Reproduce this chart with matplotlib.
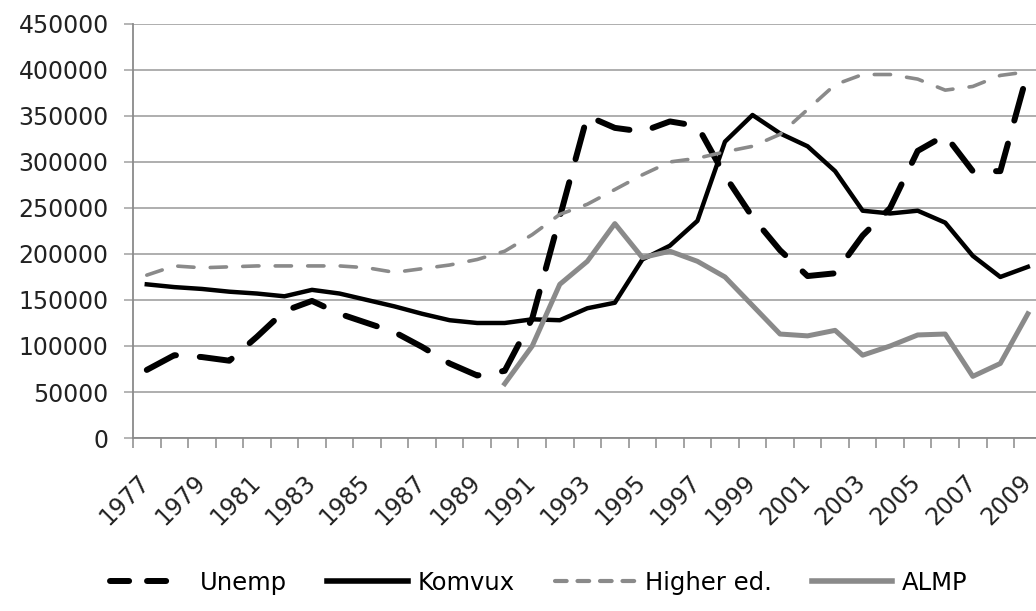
import numpy as np
import matplotlib
matplotlib.use("Agg")
import matplotlib.pyplot as plt
from matplotlib.lines import Line2D
from matplotlib.transforms import ScaledTranslation

years = list(range(1977, 2010))

unemp = [74000, 90000, 88000, 84000, 110000, 138000, 149000, 135000, 125000, 115000,
         99000, 81000, 68000, 73000, 130000, 240000, 350000, 337000, 333000, 344000,
         339000, 285000, 240000, 204000, 176000, 179000, 220000, 250000, 312000, 329000,
         290000, 290000, 398000]

komvux = [167000, 164000, 162000, 159000, 157000, 154000, 161000, 157000, 150000, 143000,
          135000, 128000, 125000, 125000, 129000, 128000, 141000, 147000, 194000, 209000,
          236000, 322000, 351000, 331000, 317000, 290000, 247000, 244000, 247000, 234000,
          198000, 175000, 186000]

higher_ed = [177000, 187000, 185000, 186000, 187000, 187000, 187000, 187000, 185000, 180000,
             184000, 188000, 194000, 203000, 221000, 243000, 254000, 270000, 286000, 300000,
             304000, 311000, 317000, 330000, 357000, 384000, 395000, 395000, 390000, 378000,
             382000, 394000, 398000]

almp = [None] * 13 + [59000, 100000, 167000, 192000, 233000, 196000, 203000, 192000, 175000,
                     144000, 113000, 111000, 117000, 90000, 100000, 112000, 113000, 67000,
                     81000, 135000]

labels = ["Unemp", "Komvux", "Higher ed.", "ALMP"]

plt.rcParams['font.family'] = ['DejaVu Sans']
fs = 17

fig = plt.figure(figsize=(10.36, 6.11), dpi=100)
ax = fig.add_axes([0.1284, 0.2831, 0.877, 0.6778])

x = np.arange(len(years))
almp_arr = np.array([np.nan if v is None else v for v in almp], dtype=float)

gray = '#8a8a8a'
ax.plot(x, unemp, color='black', lw=4.3, dashes=(5.5, 4), dash_capstyle='round',
        solid_joinstyle='round', zorder=3)
ax.plot(x, komvux, color='black', lw=3.2, solid_joinstyle='round', zorder=3)
ax.plot(x, higher_ed, color=gray, lw=2.6, dashes=(4.5, 4.5), dash_capstyle='round', zorder=3)
ax.plot(x, almp_arr, color=gray, lw=3.6, solid_joinstyle='round', zorder=3)

ax.set_xlim(-0.5, len(years) - 0.5)
ax.set_ylim(0, 450000)
ax.set_yticks(np.arange(0, 450001, 50000))
ax.set_yticklabels([str(v) for v in range(0, 450001, 50000)], fontsize=fs, color='#222222')
ax.yaxis.grid(True, color='#a8a8a8', lw=1.3)
ax.set_axisbelow(True)

ax.set_xticks(np.arange(-0.5, len(years), 1))
ax.set_xticklabels([])
ax.set_xticks(x[::2], minor=True)
ax.set_xticklabels([str(y) for y in years[::2]], minor=True, rotation=45,
                   ha='right', fontsize=fs, color='#222222')
ax.tick_params(axis='x', which='major', length=7, width=1.1, color='#8a8a8a', direction='out')
ax.tick_params(axis='x', which='minor', length=0, pad=23)
ax.tick_params(axis='y', length=6.5, width=1.1, color='#a0a0a0', pad=11)

# nudge the rotated year labels a bit to the right
shift = ScaledTranslation(8 / 100, 0, fig.dpi_scale_trans)
for t in ax.get_xticklabels(minor=True):
    t.set_transform(t.get_transform() + shift)

for s in ['top', 'right']:
    ax.spines[s].set_visible(False)
ax.spines['left'].set_color('#8a8a8a')
ax.spines['bottom'].set_color('#8a8a8a')
ax.spines['left'].set_linewidth(1.3)
ax.spines['bottom'].set_linewidth(1.3)

# legend keys
h1 = Line2D([], [], color='black', lw=4.3, dashes=(3.2, 3.0, 3.2, 7.0), dash_capstyle='round')
h2 = Line2D([], [], color='black', lw=4.0)
h3 = Line2D([], [], color=gray, lw=3.0, dashes=(2.8, 2.6), dash_capstyle='round')
h4 = Line2D([], [], color=gray, lw=4.0)
fig.legend(handles=[h1, h2, h3, h4], labels=labels, loc='center', bbox_to_anchor=(0.52, 0.046),
           ncol=4, frameon=False, fontsize=17.5, handlelength=3.3, handletextpad=0.4,
           columnspacing=1.65)

fig.savefig("out.png", dpi=100)
